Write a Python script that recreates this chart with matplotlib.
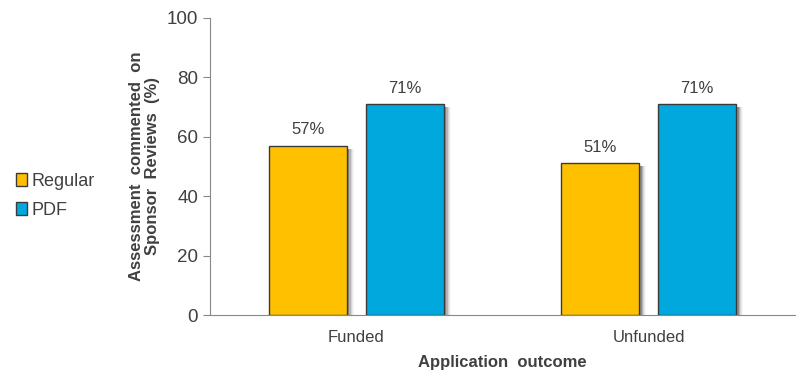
import matplotlib.pyplot as plt
import matplotlib
import numpy as np
matplotlib.rcParams['font.family'] = ['Liberation Sans', 'DejaVu Sans']

categories = ['Funded', 'Unfunded']
regular = [57, 51]
pdf = [71, 71]
series_names = ['Regular', 'PDF']
colors = ['#FFC000', '#00A8DE']
text_col = '#404040'

fig = plt.figure(figsize=(8.11, 3.8), dpi=100)
ax = fig.add_axes([0.259, 0.171, 0.721, 0.782])

ind = np.arange(len(categories))
width = 0.267
off = width / 2 + 0.0325

def shadow(xs, hs):
    # soft grey shadow to the right of each bar
    for x, h in zip(xs, hs):
        for k, a in enumerate([0.22, 0.15, 0.09, 0.05, 0.03]):
            dx = 0.004 + k * 0.004
            ax.bar(x + dx + 0.005, h - 1.0, width=width, bottom=0, color='black',
                   alpha=a, linewidth=0, zorder=1, align='center')

shadow(ind - off, regular)
shadow(ind + off, pdf)
b1 = ax.bar(ind - off, regular, width=width, color=colors[0], edgecolor='#3a3a3a',
            linewidth=1.0, zorder=3, label=series_names[0])
b2 = ax.bar(ind + off, pdf, width=width, color=colors[1], edgecolor='#3a3a3a',
            linewidth=1.0, zorder=3, label=series_names[1])

def autolabel(rects):
    for rect in rects:
        h = rect.get_height()
        ax.text(rect.get_x() + rect.get_width() / 2., h + 2.8, '%d%%' % h,
                ha='center', va='bottom', size=12, color=text_col)
autolabel(b1)
autolabel(b2)

ax.set_xlim(-0.5, 1.5)
ax.set_ylim(0, 100)
ax.set_yticks(np.arange(0, 101, 20))
ax.set_xticks(ind)
ax.set_xticklabels(categories)
ax.tick_params(axis='x', length=0, pad=11, labelsize=12, labelcolor=text_col)
ax.tick_params(axis='y', length=5, color='#888888', labelsize=13.5, labelcolor=text_col)
for s in ['top', 'right']:
    ax.spines[s].set_visible(False)
for s in ['left', 'bottom']:
    ax.spines[s].set_color('#888888')

ax.set_ylabel('Assessment  commented  on\nSponsor  Reviews  (%)', fontsize=12,
              fontweight='bold', color=text_col, labelpad=5, linespacing=1.05)
ax.set_xlabel('Application  outcome', fontsize=12, fontweight='bold',
              color=text_col, labelpad=7)

leg = fig.legend(handles=[b1, b2], labels=series_names, loc='center left',
                 bbox_to_anchor=(0.0, 0.485), frameon=False, fontsize=13,
                 handlelength=0.6, handleheight=0.7, handletextpad=0.25,
                 labelspacing=0.65)
for t in leg.get_texts():
    t.set_color(text_col)

fig.savefig('out.png')
